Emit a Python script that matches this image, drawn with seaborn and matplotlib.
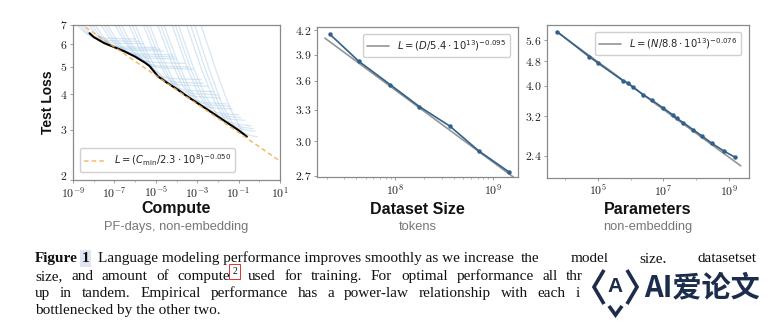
import numpy as np
import pandas as pd
import matplotlib
matplotlib.use("Agg")
import matplotlib.pyplot as plt
import seaborn as sns
from matplotlib.ticker import FixedLocator, FixedFormatter, NullFormatter, LogLocator
from matplotlib.font_manager import FontProperties
from matplotlib.lines import Line2D
from matplotlib.patches import Rectangle
from matplotlib.transforms import ScaledTranslation

# ---------------- data ----------------
# Panel 1: learning curves (log10 PF-days, test loss), one list per model
curve_logC = [
    [-9.0, -8.6, -8.3, -8.0, -7.4, -6.0],
    [-8.85, -8.43, -8.12, -7.8, -7.2, -5.8],
    [-8.7, -8.26, -7.93, -7.6, -7.0, -5.6],
    [-8.4, -7.92, -7.56, -7.2, -6.6, -5.0],
    [-8.25, -7.75, -7.38, -7.0, -6.4, -4.8],
    [-8.1, -7.58, -7.19, -6.8, -6.2, -4.6],
    [-7.8, -7.24, -6.82, -6.4, -5.8, -4.2],
    [-7.65, -7.07, -6.64, -6.2, -5.6, -4.1],
    [-7.5, -6.9, -6.45, -6.0, -5.4, -4.0],
    [-7.1, -6.5, -6.05, -5.6, -5.0, -3.6],
    [-6.95, -6.33, -5.87, -5.4, -4.8, -3.4],
    [-6.8, -6.16, -5.68, -5.2, -4.6, -3.2],
    [-6.4, -5.76, -5.28, -4.8, -4.2, -2.8],
    [-6.25, -5.59, -5.1, -4.6, -4.0, -2.7],
    [-6.1, -5.42, -4.91, -4.4, -3.8, -2.5],
    [-5.7, -5.02, -4.51, -4.0, -3.4, -2.2],
    [-5.55, -4.85, -4.33, -3.8, -3.2, -2.0],
    [-5.4, -4.68, -4.14, -3.6, -3.0, -1.9],
    [-5.0, -4.28, -3.74, -3.2, -2.6, -1.6],
    [-4.85, -4.11, -3.56, -3.0, -2.4, -1.4],
    [-4.7, -3.94, -3.37, -2.8, -2.2, -1.3],
    [-4.3, -3.54, -2.97, -2.4, -1.8, -1.0],
    [-4.15, -3.37, -2.79, -2.2, -1.6, -0.9],
    [-4.0, -3.2, -2.6, -2.0, -1.4, -0.7],
    [-3.6, -2.8, -2.2, -1.6, -1.0, -0.4],
    [-3.4, -2.6, -2.0, -1.4, -0.8, -0.3],
    [-3.2, -2.4, -1.8, -1.2, -0.6, -0.2],
    [-2.9, -2.06, -1.43, -0.8, -0.4, -0.1],
]
curve_loss = [
    [7.30, 6.75, 6.49, 6.37, 6.29, 6.25],
    [7.30, 6.68, 6.39, 6.25, 6.17, 6.13],
    [7.30, 6.61, 6.29, 6.13, 6.05, 6.01],
    [7.30, 6.51, 6.14, 5.95, 5.87, 5.83],
    [7.30, 6.46, 6.07, 5.87, 5.79, 5.75],
    [7.30, 6.41, 6.00, 5.79, 5.71, 5.67],
    [7.30, 6.31, 5.86, 5.62, 5.54, 5.50],
    [7.30, 6.26, 5.78, 5.53, 5.45, 5.41],
    [7.30, 6.21, 5.70, 5.44, 5.36, 5.32],
    [7.30, 6.10, 5.54, 5.25, 5.17, 5.13],
    [7.30, 6.01, 5.41, 5.10, 5.02, 4.98],
    [7.30, 5.97, 5.35, 5.02, 4.94, 4.90],
    [7.30, 5.71, 5.06, 4.62, 4.54, 4.50],
    [7.30, 5.66, 4.89, 4.49, 4.41, 4.37],
    [7.30, 5.60, 4.81, 4.39, 4.31, 4.27],
    [7.30, 5.49, 4.65, 4.20, 4.12, 4.08],
    [7.30, 5.43, 4.56, 4.10, 4.02, 3.98],
    [7.30, 5.37, 4.48, 4.00, 3.92, 3.88],
    [7.30, 5.27, 4.33, 3.82, 3.74, 3.70],
    [7.30, 5.23, 4.27, 3.75, 3.67, 3.63],
    [7.30, 5.18, 4.19, 3.66, 3.58, 3.55],
    [7.30, 5.08, 4.05, 3.50, 3.42, 3.39],
    [7.30, 5.04, 3.99, 3.43, 3.35, 3.31],
    [7.30, 5.00, 3.93, 3.35, 3.27, 3.24],
    [7.30, 4.92, 3.81, 3.21, 3.13, 3.10],
    [7.30, 4.88, 3.75, 3.14, 3.06, 3.03],
    [7.30, 4.84, 3.69, 3.07, 2.99, 2.97],
    [7.30, 4.79, 3.58, 2.94, 2.86, 2.84],
]
frontier_logC = [-8.2, -8.0, -7.5, -7.0, -6.5, -6.0, -5.5, -5.3, -5.1, -4.9,
                 -4.7, -4.5, -4.0, -3.5, -3.0, -2.5, -2.0, -1.5, -1.0, -0.6]
frontier_loss = [6.55, 6.35, 6.05, 5.85, 5.65, 5.42, 5.15, 5.02, 4.82, 4.62,
                 4.52, 4.41, 4.18, 3.94, 3.73, 3.53, 3.34, 3.16, 2.99, 2.84]
compute_fit_C = [1e-9, 1e1]
compute_fit_L = [7.38, 2.33]

# Panel 2: dataset size
data_logD = [7.33, 7.63, 7.95, 8.25, 8.56, 8.86, 9.17]
data_loss = [4.15, 3.82, 3.56, 3.33, 3.14, 2.91, 2.73]
data_fit_D = [10**7.28, 10**9.22]
data_fit_L = [4.10, 2.685]

# Panel 3: parameters
param_logN = [3.77, 4.74, 5.00, 5.78, 5.93, 6.06, 6.39, 6.64, 7.00, 7.28, 7.40,
              7.60, 7.91, 8.16, 8.47, 8.85, 9.16]
param_loss = [5.95, 4.96, 4.74, 4.15, 4.08, 3.98, 3.75, 3.61, 3.40, 3.24, 3.16,
              3.06, 2.90, 2.78, 2.63, 2.48, 2.38]
param_fit_N = [10**3.77, 10**9.35]
param_fit_L = [5.93, 2.23]

xlabels = ["Compute", "Dataset Size", "Parameters"]
sublabels = ["PF-days, non-embedding", "tokens", "non-embedding"]
legend_labels = [r"$L = (C_{\rm min}/2.3\cdot 10^{8})^{-0.050}$",
                 r"$L = (D/5.4\cdot 10^{13})^{-0.095}$",
                 r"$L = (N/8.8\cdot 10^{13})^{-0.076}$"]

caption_line1 = "Language modeling performance improves smoothly as we increase"
caption_line1_tail = "the model size, datasetset"
caption_line2 = ("size, and amount of compute", "2",
                 "used for training.  For optimal performance all three factors must be scaled")
caption_line3 = ("up in tandem.  Empirical performance has a power-law relationship "
                 "with each individual factor when not")
caption_line4 = "bottlenecked by the other two."

# ---------------- style ----------------
sns.set_theme(style="white")
plt.rcParams["font.family"] = ["Liberation Sans", "DejaVu Sans"]
plt.rcParams["mathtext.fontset"] = "cm"

W, H = 775, 322
fig = plt.figure(figsize=(W / 100, H / 100), dpi=100)
fig.patch.set_facecolor("white")


def px_axes(l, t, r, b):
    return fig.add_axes([l / W, 1 - b / H, (r - l) / W, (b - t) / H])


ax1 = px_axes(73, 25, 280, 180)
ax2 = px_axes(317, 27, 518, 177)
ax3 = px_axes(547, 25, 749, 178)

BLUE_CURVE = "#9cc2e4"
DATA_COL = "#33608a"
FIT_COL = "#7a7a7a"
ORANGE = "#f2b04f"

# Panel 1 curves
rows = []
for i, (xs, ys) in enumerate(zip(curve_logC, curve_loss)):
    for x, y in zip(xs, ys):
        rows.append({"model": i, "C": 10 ** x, "L": y})
df_curves = pd.DataFrame(rows)
sns.lineplot(data=df_curves, x="C", y="L", units="model", estimator=None,
             sort=False, color=BLUE_CURVE, alpha=0.4, lw=0.9, ax=ax1)
df_front = pd.DataFrame({"C": [10 ** v for v in frontier_logC], "L": frontier_loss})
sns.lineplot(data=df_front, x="C", y="L", sort=False, color="black", lw=1.5, ax=ax1)
df_cfit = pd.DataFrame({"C": compute_fit_C, "L": compute_fit_L})
sns.lineplot(data=df_cfit, x="C", y="L", color=ORANGE, lw=1.1, ls=(0, (3, 2)),
             alpha=0.85, ax=ax1, label=legend_labels[0])

# Panel 2
df_d = pd.DataFrame({"D": [10 ** v for v in data_logD], "L": data_loss})
df_dfit = pd.DataFrame({"D": data_fit_D, "L": data_fit_L})
sns.lineplot(data=df_dfit, x="D", y="L", color=FIT_COL, lw=1.2, alpha=0.8, ax=ax2,
             label=legend_labels[1])
sns.lineplot(data=df_d, x="D", y="L", color=DATA_COL, lw=1.2, marker="o",
             markersize=3.2, markeredgewidth=0, ax=ax2)

# Panel 3
df_n = pd.DataFrame({"N": [10 ** v for v in param_logN], "L": param_loss})
df_nfit = pd.DataFrame({"N": param_fit_N, "L": param_fit_L})
sns.lineplot(data=df_nfit, x="N", y="L", color=FIT_COL, lw=1.2, alpha=0.8, ax=ax3,
             label=legend_labels[2])
sns.lineplot(data=df_n, x="N", y="L", color=DATA_COL, lw=1.2, marker="o",
             markersize=3.2, markeredgewidth=0, ax=ax3)

for ax in (ax1, ax2, ax3):
    ax.set_xscale("log")
    ax.set_yscale("log")
    ax.set_xlabel("")
    ax.set_ylabel("")
    for s in ax.spines.values():
        s.set_color("#8a8a8a")
        s.set_linewidth(0.9)
    ax.tick_params(which="both", direction="out", color="#9a9a9a", labelsize=8.5,
                   pad=1.5, bottom=True, left=True, labelcolor="#222222")
    ax.tick_params(which="major", length=2.5, width=0.7)
    ax.tick_params(which="minor", length=1.5, width=0.5)

# axis limits / ticks
ax1.set_xlim(1e-9, 1e1)
ax1.set_ylim(2, 7)
ax1.xaxis.set_major_locator(FixedLocator([1e-9, 1e-7, 1e-5, 1e-3, 1e-1, 1e1]))
ax1.xaxis.set_major_formatter(FixedFormatter(
    [r"$10^{-9}$", r"$10^{-7}$", r"$10^{-5}$", r"$10^{-3}$", r"$10^{-1}$", r"$10^{1}$"]))
ax1.xaxis.set_minor_locator(FixedLocator([10.0 ** k for k in range(-9, 2)]))
ax1.xaxis.set_minor_formatter(NullFormatter())
ax1.yaxis.set_major_locator(FixedLocator([2, 3, 4, 5, 6, 7]))
ax1.yaxis.set_major_formatter(FixedFormatter([r"$2$", r"$3$", r"$4$", r"$5$", r"$6$", r"$7$"]))
ax1.yaxis.set_minor_locator(FixedLocator([]))

ax2.set_xlim(10 ** 7.2, 10 ** 9.26)
ax2.set_ylim(2.69, 4.24)
ax2.xaxis.set_major_locator(FixedLocator([1e8, 1e9]))
ax2.xaxis.set_major_formatter(FixedFormatter([r"$10^{8}$", r"$10^{9}$"]))
ax2.xaxis.set_minor_locator(LogLocator(base=10, subs=np.arange(2, 10)))
ax2.xaxis.set_minor_formatter(NullFormatter())
yt2 = [2.7, 3.0, 3.3, 3.6, 3.9, 4.2]
ax2.yaxis.set_major_locator(FixedLocator(yt2))
ax2.yaxis.set_major_formatter(FixedFormatter([rf"${v:.1f}$" for v in yt2]))
ax2.yaxis.set_minor_locator(FixedLocator([]))

ax3.set_xlim(10 ** 3.46, 10 ** 9.6)
ax3.set_ylim(2.04, 6.25)
ax3.xaxis.set_major_locator(FixedLocator([1e5, 1e7, 1e9]))
ax3.xaxis.set_major_formatter(FixedFormatter([r"$10^{5}$", r"$10^{7}$", r"$10^{9}$"]))
ax3.xaxis.set_minor_locator(FixedLocator([10.0 ** k for k in range(4, 10)]))
ax3.xaxis.set_minor_formatter(NullFormatter())
yt3 = [2.4, 3.2, 4.0, 4.8, 5.6]
ax3.yaxis.set_major_locator(FixedLocator(yt3))
ax3.yaxis.set_major_formatter(FixedFormatter([rf"${v:.1f}$" for v in yt3]))
ax3.yaxis.set_minor_locator(FixedLocator([]))

# legends
lp = FontProperties(family="DejaVu Sans", size=7.2, math_fontfamily="dejavusans")
leg_kw = dict(prop=lp, frameon=True, fancybox=True, framealpha=1, edgecolor="#d0d0d0",
              handlelength=2.2, borderpad=0.4, handletextpad=0.8)
ax1.legend(loc="lower left", bbox_to_anchor=(0.01, 0.02), **leg_kw)
ax2.legend(loc="upper right", bbox_to_anchor=(0.985, 0.985), **leg_kw)
ax3.legend(loc="upper right", bbox_to_anchor=(0.985, 0.985), **leg_kw)

# axis titles
ax_centers = [(73 + 280) / 2, (317 + 518) / 2, (547 + 749) / 2]
for cx, t, s in zip(ax_centers, xlabels, sublabels):
    fig.text(cx / W, 1 - 209 / H, t, ha="center", va="center", fontsize=11.5,
             fontweight="bold", color="#111111")
    fig.text(cx / W, 1 - 227 / H, s, ha="center", va="center", fontsize=9.3,
             color="#777777")
fig.text(48 / W, 1 - 102 / H, "Test Loss", rotation=90, ha="center", va="center",
         fontsize=10, fontweight="bold", color="#111111")

fig.canvas.draw()
renderer = fig.canvas.get_renderer()
# lift the lowest y tick label of panel 1 slightly, as in the reference
lab2 = ax1.yaxis.get_majorticklabels()[0]
lab2.set_transform(lab2.get_transform() + ScaledTranslation(0, 3 / 72, fig.dpi_scale_trans))

# ---------------- caption ----------------
cap = dict(family="Liberation Serif", fontsize=11, color="#111111", va="baseline")
COVER_X = 584  # left edge of the watermark box


def put(x, y, s, **kw):
    t = fig.text(x / W, 1 - y / H, s, **{**cap, **kw})
    return t, t.get_window_extent(renderer).width


def justify(words, x0, x1, y, cover=None, extra=None, **kw):
    extra = extra or {}
    items = [put(0, y, w, **kw) for w in words]
    widths = [w + extra.get(i, 0) for i, (_, w) in enumerate(items)]
    gap = (x1 - x0 - sum(widths)) / (len(items) - 1)
    x = x0
    ends = []
    for (t, w), ww, word in zip(items, widths, words):
        t.set_x(x / W)
        if cover is not None and x >= cover:
            t.remove()
        elif cover is not None and x + w > cover:
            s = word
            while s and x + t.get_window_extent(renderer).width > cover + 3:
                s = s[:-1]
                t.set_text(s)
        ends.append(x + w)
        x += ww + gap
    return ends


B1, B2, B3, B4 = 262, 280, 297, 314
t_fig, wf = put(35, B1, "Figure", fontweight="bold")
t_one, w1 = put(35 + wf + 4, B1, "1", fontweight="bold",
                bbox=dict(boxstyle="square,pad=0.12", fc="#dfe6f2", ec="none"))
put(35 + wf + 4 + w1 + 8, B1, caption_line1)
justify(caption_line1_tail.split(), 521, 757, B1)

seg_a, sup, seg_b = caption_line2
words_a = seg_a.split()
words_b = seg_b.split()
ends = justify(words_a + words_b, 35, 755, B2, cover=COVER_X,
               extra={len(words_a) - 1: 9})
x_sup = ends[len(words_a) - 1] + 2
fig.text(x_sup / W, 1 - (B2 - 6) / H, sup, family="Liberation Serif", fontsize=7,
         color="#111111", va="baseline",
         bbox=dict(boxstyle="square,pad=0.3", fc="none", ec="#e03030", lw=0.7))
justify(caption_line3.split(), 35, 755, B3, cover=COVER_X)
put(35, B4, caption_line4)

# white mask over the top of line-1 tail (as in the reference)
fig.add_artist(Rectangle((516 / W, 1 - 253 / H), (W - 516) / W, 12 / H,
                         transform=fig.transFigure, fc="white", ec="none", zorder=5))

# watermark
fig.add_artist(Rectangle((COVER_X / W, 0), (W - COVER_X) / W, 1 - 263 / H,
                         transform=fig.transFigure, fc="white", ec="none", zorder=5))
NAVY = "#1c2c4c"


def fl(xs, ys, lw=2.6):
    fig.add_artist(Line2D([x / W for x in xs], [1 - y / H for y in ys], color=NAVY,
                          lw=lw, solid_capstyle="butt", solid_joinstyle="miter",
                          transform=fig.transFigure, zorder=6))


fl([604, 594, 604], [270, 287, 304])
fl([627, 637, 627], [270, 287, 304])
fl([609, 615.5, 622], [306, 315, 306])
fig.text(615.5 / W, 1 - 287 / H, "A", ha="center", va="center", fontsize=15,
         fontweight="bold", color=NAVY, zorder=6)
fig.text(644 / W, 1 - 287 / H, "AI爱论文", ha="left", va="center", fontsize=21,
         fontweight="bold", color=NAVY, zorder=6,
         family=["Noto Sans CJK SC", "DejaVu Sans"])

fig.savefig("out.png", dpi=100, facecolor="white")
